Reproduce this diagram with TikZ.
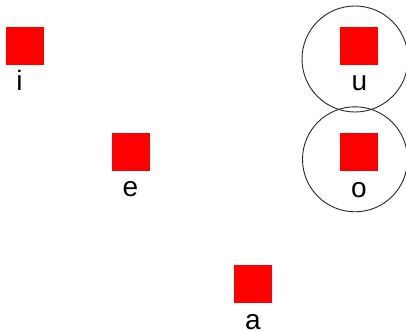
\documentclass[tikz,border=0pt]{standalone}
\usepackage{fontspec}
\setmainfont{Liberation Sans}
\tikzset{
  sq/.style={fill=red, draw=none, minimum size=38pt, inner sep=0pt, outer sep=0pt},
  lbl/.style={anchor=base, inner sep=0pt, font=\fontsize{28}{30}\selectfont},
  ring/.style={draw=black!85, line width=0.9pt}
}
\begin{document}
\begin{tikzpicture}[x=1pt,y=-1pt]
\useasboundingbox (0,0) rectangle (406,331);
\node[sq] (i) at (25,46) {};
\node[sq] (e) at (131,152) {};
\node[sq] (a) at (253,284) {};
\node[sq] (u) at (359,46) {};
\node[sq] (o) at (359,152) {};
\node[lbl] (il) at (19.5,91) {i};
\node[lbl] (el) at (130.5,196.5) {e};
\node[lbl] (al) at (253,329.5) {a};
\node[lbl] (ul) at (359.5,91) {u};
\node[lbl] (ol) at (359,197) {o};
\draw[ring] (355,59) circle[radius=53];
\draw[ring] (355,159.3) circle[radius=52.5];
\end{tikzpicture}
\end{document}
